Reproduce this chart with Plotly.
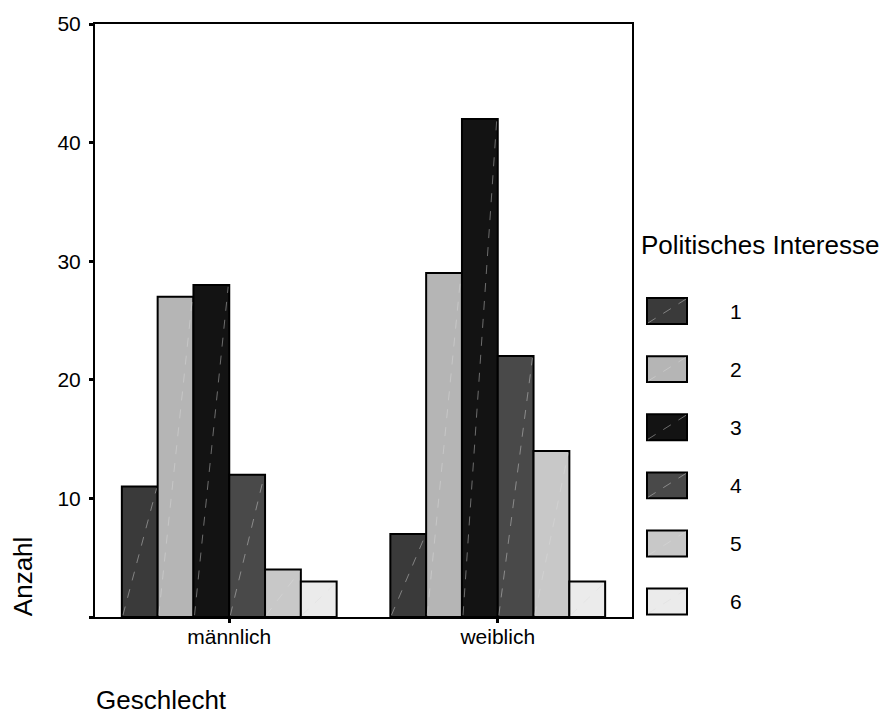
import plotly.graph_objects as go

categories = ["männlich", "weiblich"]
series_names = ["1", "2", "3", "4", "5", "6"]
values = {
    "1": [11, 7],
    "2": [27, 29],
    "3": [28, 42],
    "4": [12, 22],
    "5": [4, 14],
    "6": [3, 3],
}
colors = ["#3a3a3a", "#b5b5b5", "#131313", "#494949", "#c8c8c8", "#ebebeb"]
y_ticks = [0, 10, 20, 30, 40, 50]
y_ticklabels = ["", "10", "20", "30", "40", "50"]

FONT = "Liberation Sans, Arial, sans-serif"
n = len(series_names)
group_w = 0.8
w = group_w / n
xs = list(range(len(categories)))

fig = go.Figure()
for i, name in enumerate(series_names):
    off = (i - (n - 1) / 2) * w
    fig.add_trace(go.Bar(
        x=[x + off for x in xs], y=values[name], width=w, name=name,
        marker=dict(color=colors[i], line=dict(color="black", width=2)),
        showlegend=False,
    ))
# faint diagonal strokes inside each bar (bottom-left to top-right)
for i, name in enumerate(series_names):
    off = (i - (n - 1) / 2) * w
    lx, ly = [], []
    for x, v in zip(xs, values[name]):
        lx += [x + off - w / 2 + 0.004, x + off + w / 2 - 0.004, None]
        ly += [0.15, v - 0.15, None]
    fig.add_trace(go.Scatter(
        x=lx, y=ly, mode="lines", showlegend=False, hoverinfo="skip",
        line=dict(color="rgba(220,220,220,0.45)", width=1, dash="dash"),
    ))

# custom legend (paper coordinates)
X0, X1 = 95, 632
Y0, Y1 = 617, 22
def px(x):
    return (x - X0) / (X1 - X0)
def py(y):
    return (Y0 - y) / (Y0 - Y1)

shapes = []
annotations = []
annotations.append(dict(text="Politisches Interesse", x=px(639), y=py(244), xref="paper", yref="paper",
                        xanchor="left", yanchor="middle", showarrow=False,
                        font=dict(family=FONT, size=26, color="black")))
for i, name in enumerate(series_names):
    top = 297 + i * 58.3
    bot = top + 26
    shapes.append(dict(type="rect", xref="paper", yref="paper", x0=px(647), x1=px(687), y0=py(bot), y1=py(top),
                       fillcolor=colors[i], line=dict(color="black", width=2)))
    shapes.append(dict(type="line", xref="paper", yref="paper", x0=px(648), x1=px(686), y0=py(bot - 1), y1=py(top + 1),
                       line=dict(color="rgba(220,220,220,0.45)", width=1, dash="dash")))
    annotations.append(dict(text=name, x=px(736), y=py((top + bot) / 2), xref="paper", yref="paper",
                            xanchor="center", yanchor="middle", showarrow=False,
                            font=dict(family=FONT, size=21, color="black")))

annotations.append(dict(text="Anzahl", x=px(23), y=py(576), xref="paper", yref="paper", textangle=-90,
                        xanchor="center", yanchor="middle", showarrow=False,
                        font=dict(family=FONT, size=26, color="black")))
annotations.append(dict(text="Geschlecht", x=px(94), y=py(700), xref="paper", yref="paper",
                        xanchor="left", yanchor="middle", showarrow=False,
                        font=dict(family=FONT, size=26, color="black")))

fig.update_layout(
    width=885, height=715,
    margin=dict(l=X0, r=885 - X1, t=Y1, b=715 - Y0),
    paper_bgcolor="white", plot_bgcolor="white",
    barmode="overlay",
    font=dict(family=FONT, size=21, color="black"),
    shapes=shapes, annotations=annotations,
    showlegend=False,
)
fig.update_xaxes(
    range=[-0.5, 1.5], tickvals=xs, ticktext=categories,
    showline=True, linecolor="black", linewidth=2, mirror=True,
    ticks="outside", ticklen=4, tickwidth=3, tickcolor="black",
    showgrid=False, zeroline=False, tickfont=dict(size=21),
    ticklabelstandoff=-4,
)
fig.update_yaxes(
    range=[0, 50], tickvals=y_ticks, ticktext=y_ticklabels,
    showline=True, linecolor="black", linewidth=2, mirror=True,
    ticks="outside", ticklen=4, tickwidth=3, tickcolor="black",
    showgrid=False, zeroline=False, tickfont=dict(size=21),
    ticklabelstandoff=4,
)
fig.write_html("out.html", config={"displayModeBar": False},
               post_script="document.body.style.margin='0';document.body.style.overflow='hidden';")
